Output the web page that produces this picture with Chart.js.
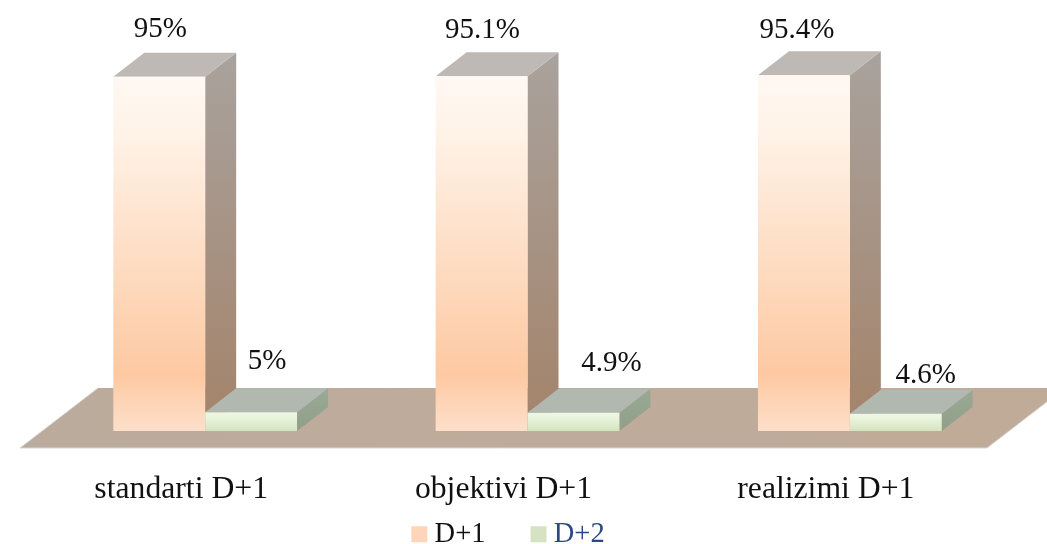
<!DOCTYPE html>
<html>
<head>
<meta charset="utf-8">
<style>
body { margin: 0; background: #fff; }
canvas { display: block; }
</style>
<script src="https://cdn.jsdelivr.net/npm/chart.js@4"></script>
</head>
<body>
<canvas id="barChart" width="1047" height="544"></canvas>
<script>
const categories = ['standarti D+1', 'objektivi D+1', 'realizimi D+1'];
const seriesNames = ['D+1', 'D+2'];
const d1Values = [95, 95.1, 95.4];
const d2Values = [5, 4.9, 4.6];

// the data labels were placed by hand in the original, so each has its own nudge
const labelNudgeX = [[1, 1, -7], [16, 38, 30]];
const labelNudgeY = [[-47, -46, -45], [-51, -49, -38]];

const SERIF = '"Liberation Serif", serif';
const DEPTH_X = 31;
const DEPTH_Y = 24;

const frontStops = [
	[[0, '#fff8f3'], [0.15, '#fff3e8'], [0.84, '#fdc9a2'], [1, '#fddfca']],
	[[0, '#eff7e4'], [0.3, '#e9f4dc'], [1, '#d3e4bf']]
];
const sideColors = [['#a9a29d', '#a4836a'], ['#9aa995', '#8f9f88']];
const topColors = ['#bfb9b5', '#b1b8b0'];

const frontGradient = (context, stops) => {
	const {chart, parsed} = context;
	const y = chart.scales.y;
	if (!parsed) return stops[0][1];
	const g = chart.ctx.createLinearGradient(0, y.getPixelForValue(parsed.y), 0, y.getPixelForValue(0));
	stops.forEach(s => g.addColorStop(s[0], s[1]));
	return g;
};

const poly = (ctx, pts, fill) => {
	ctx.beginPath();
	pts.forEach((p, i) => i ? ctx.lineTo(p[0], p[1]) : ctx.moveTo(p[0], p[1]));
	ctx.closePath();
	ctx.fillStyle = fill;
	ctx.fill();
};

// floor and the side / top faces of the bars, all worked out from the chart's scales
const box3d = {
	id: 'box3d',
	afterLayout(chart) {
		// tick labels get clipped to the scale box, the legend sits right under the short box
		chart.scales.x.bottom += 50;
		chart.legend.left -= 16;
		chart.legend.right -= 16;
	},
	beforeDatasetsDraw(chart) {
		const ctx = chart.ctx;
		const {left, right, bottom} = chart.chartArea;
		const frontY = bottom + 17, backY = bottom - 43;
		const fl = left - 24, fr = right - 24;
		const bl = left + 54, br = right + 54;
		const floor = ctx.createLinearGradient(fl, 0, br, 0);
		floor.addColorStop(0, '#bbab9c');
		floor.addColorStop(0.5, '#bfab9a');
		floor.addColorStop(1, '#c0ab98');
		poly(ctx, [[fl, frontY], [fr, frontY], [br, backY], [bl, backY]], floor);
		ctx.strokeStyle = '#d5d6d8';
		ctx.lineWidth = 1;
		ctx.beginPath();
		ctx.moveTo(bl, backY);
		ctx.lineTo(fl, frontY);
		ctx.lineTo(fr, frontY);
		ctx.lineTo(br, backY);
		ctx.stroke();

		categories.forEach((c, i) => {
			[0, 1].forEach(d => {
				const bar = chart.getDatasetMeta(d).data[i];
				const x0 = bar.x - bar.width / 2, x1 = bar.x + bar.width / 2;
				const side = ctx.createLinearGradient(0, bar.y - DEPTH_Y, 0, bar.base);
				side.addColorStop(0, sideColors[d][0]);
				side.addColorStop(1, sideColors[d][1]);
				poly(ctx, [[x1, bar.y], [x1 + DEPTH_X, bar.y - DEPTH_Y], [x1 + DEPTH_X, bar.base - DEPTH_Y], [x1, bar.base]], side);
				poly(ctx, [[x0, bar.y], [x0 + DEPTH_X, bar.y - DEPTH_Y], [x1 + DEPTH_X, bar.y - DEPTH_Y], [x1, bar.y]], topColors[d]);
			});
		});
	},
	afterDatasetsDraw(chart) {
		const ctx = chart.ctx;
		ctx.save();
		ctx.font = '29px ' + SERIF;
		ctx.fillStyle = '#111';
		ctx.textAlign = 'center';
		ctx.textBaseline = 'middle';
		chart.data.datasets.forEach((ds, d) => {
			chart.getDatasetMeta(d).data.forEach((bar, i) => {
				ctx.fillText(ds.data[i] + '%', bar.x + labelNudgeX[d][i], bar.y + labelNudgeY[d][i]);
			});
		});
		ctx.restore();
	}
};

new Chart(document.getElementById('barChart'), {
	type: 'bar',
	data: {
		labels: categories,
		datasets: [
			{
				label: seriesNames[0],
				data: d1Values,
				backgroundColor: c => frontGradient(c, frontStops[0]),
				borderWidth: 0
			},
			{
				label: seriesNames[1],
				data: d2Values,
				backgroundColor: c => frontGradient(c, frontStops[1]),
				borderWidth: 0
			}
		]
	},
	options: {
		responsive: false,
		animation: false,
		categoryPercentage: 0.57,
		barPercentage: 1,
		layout: {
			padding: {left: 44, right: 36, top: 58, bottom: 0}
		},
		scales: {
			x: {
				offset: true,
				grid: {display: false},
				border: {display: false},
				ticks: {
					color: '#111',
					font: {family: SERIF, size: 31.7},
					padding: 32,
					labelOffset: -24,
					maxRotation: 0
				},
				afterFit: scale => { scale.height = 37; }
			},
			y: {
				display: false,
				min: 0,
				max: 100
			}
		},
		plugins: {
			tooltip: {enabled: false},
			legend: {
				position: 'bottom',
				maxHeight: 76,
				labels: {
					usePointStyle: true,
					boxWidth: 2,
					boxHeight: 16,
					padding: 52,
					font: {family: SERIF, size: 28.5},
					generateLabels: () => [
						{text: seriesNames[0], fillStyle: '#fdd5b8', strokeStyle: '#fdd5b8', lineWidth: 0, pointStyle: 'rect', fontColor: '#111', datasetIndex: 0},
						{text: seriesNames[1], fillStyle: '#d5e3c3', strokeStyle: '#d5e3c3', lineWidth: 0, pointStyle: 'rect', fontColor: '#2b4a80', datasetIndex: 1}
					]
				}
			}
		}
	},
	plugins: [box3d]
});
</script>
</body>
</html>
